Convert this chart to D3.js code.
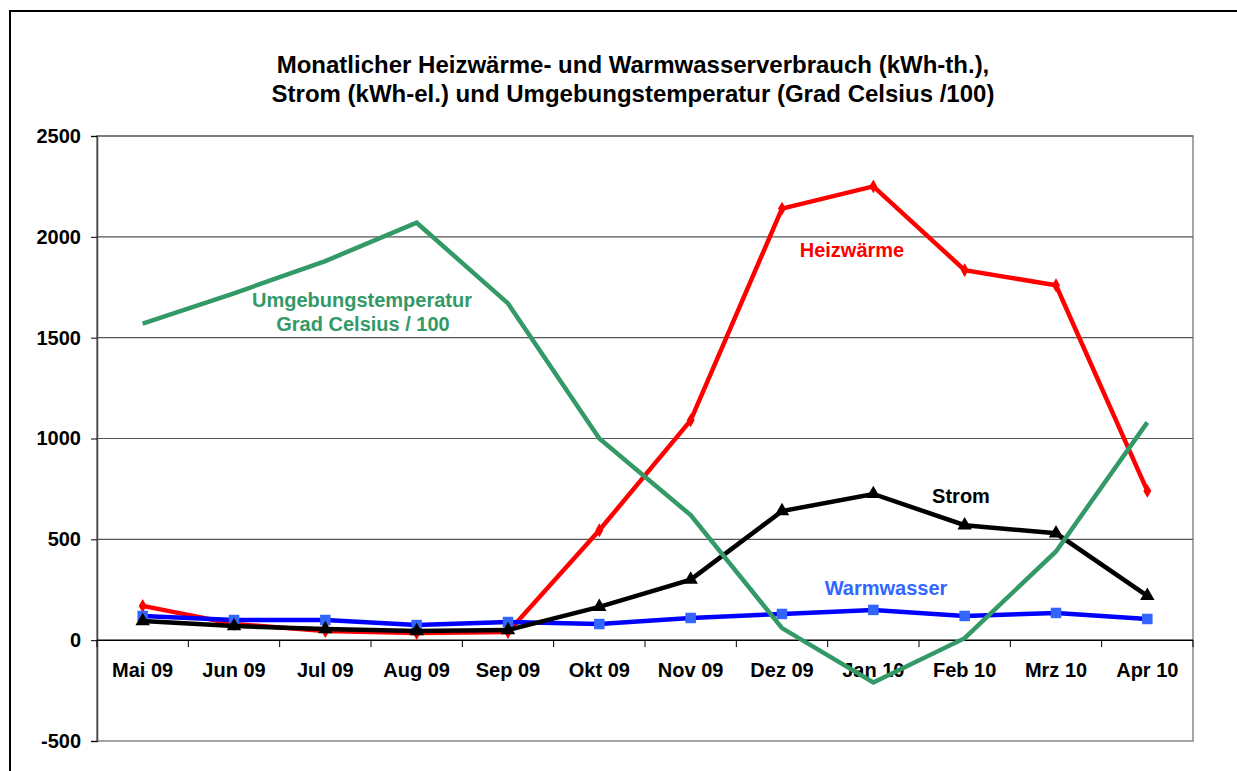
<!DOCTYPE html>
<html>
<head>
<meta charset="utf-8">
<script src="https://cdn.jsdelivr.net/npm/d3@7"></script>
<style>
  body { margin: 0; background: #fff; }
  svg { display: block; font-family: "Liberation Sans", Arial, sans-serif; font-weight: bold; }
</style>
</head>
<body>
<svg id="chart" width="1237" height="771"></svg>
<script>
const months = ['Mai 09', 'Jun 09', 'Jul 09', 'Aug 09', 'Sep 09', 'Okt 09', 'Nov 09', 'Dez 09', 'Jan 10', 'Feb 10', 'Mrz 10', 'Apr 10']
const heizwaerme = [170, 80, 45, 35, 40, 545, 1090, 2140, 2250, 1835, 1760, 740]
const warmwasser = [120, 100, 100, 75, 90, 80, 110, 130, 150, 120, 135, 105]
const strom = [95, 70, 55, 45, 50, 165, 300, 640, 725, 570, 530, 220]
const temperatur = [1570, 1720, 1880, 2070, 1670, 1000, 620, 60, -210, 10, 440, 1080]
const yTicks = [-500, 0, 500, 1000, 1500, 2000, 2500]
const titleLines = ['Monatlicher Heizwärme- und Warmwasserverbrauch (kWh-th.),', 'Strom (kWh-el.) und Umgebungstemperatur (Grad Celsius /100)']

const svg = d3.select('#chart')

// outer frame, right and bottom edges run off the picture
svg.append('rect')
  .attr('x', 10).attr('y', 11)
  .attr('width', 1300).attr('height', 900)
  .attr('fill', 'none').attr('stroke', '#000').attr('stroke-width', 2)

const plotL = 97, plotR = 1193, plotT = 136, plotB = 741

let x = d3.scaleBand().domain(months).range([plotL, plotR]).padding(0)
let y = d3.scaleLinear().domain([-500, 2500]).range([plotB, plotT])
let cx = m => x(m) + x.bandwidth() / 2

// title
svg.append('g').selectAll('text')
  .data(titleLines)
  .enter()
  .append('text')
  .attr('x', 633)
  .attr('y', (d, i) => 73 + i * 29)
  .attr('text-anchor', 'middle')
  .attr('font-size', 24)
  .text(d => d)

// plot frame + gridlines
svg.append('rect')
  .attr('x', plotL).attr('y', plotT)
  .attr('width', plotR - plotL).attr('height', plotB - plotT)
  .attr('fill', 'none').attr('stroke', '#888').attr('stroke-width', 1.5)

svg.append('g').selectAll('line')
  .data(yTicks.filter(t => t != 0 && t != -500))
  .enter()
  .append('line')
  .attr('x1', plotL).attr('x2', plotR)
  .attr('y1', d => y(d)).attr('y2', d => y(d))
  .attr('stroke', '#555').attr('stroke-width', 1.2)

// y axis (plain hyphen for the negative label)
let yAxis = svg.append('g')
  .attr('transform', `translate(${plotL},0)`)
  .call(d3.axisLeft(y).tickValues(yTicks).tickFormat(d => String(d)).tickSize(6).tickPadding(10))
yAxis.select('.domain').attr('stroke', '#444').attr('stroke-width', 1.5)
yAxis.selectAll('line').attr('stroke', '#000')
yAxis.selectAll('text').attr('font-size', 20).attr('fill', '#000')
  .attr('font-family', '"Liberation Sans", Arial, sans-serif').attr('font-weight', 'bold')

// x axis at zero, ticks sit between categories
let edges = months.map(m => x(m)).concat([plotR])
let zeroAxis = svg.append('g').attr('transform', `translate(0,${y(0)})`)
zeroAxis.append('line')
  .attr('x1', plotL).attr('x2', plotR)
  .attr('stroke', '#000').attr('stroke-width', 1.5)
zeroAxis.selectAll('.tick')
  .data(edges)
  .enter()
  .append('line')
  .attr('x1', d => d).attr('x2', d => d)
  .attr('y1', 0).attr('y2', 7)
  .attr('stroke', '#000')
zeroAxis.selectAll('text')
  .data(months)
  .enter()
  .append('text')
  .attr('x', d => cx(d))
  .attr('y', 37)
  .attr('text-anchor', 'middle')
  .attr('font-size', 20)
  .text(d => d)

function drawSeries(values, color, markerColor, symbol, size, width) {
  let pts = months.map((m, i) => [cx(m), y(values[i])])
  let g = svg.append('g')
  g.append('path')
    .attr('d', d3.line()(pts))
    .attr('fill', 'none')
    .attr('stroke', color)
    .attr('stroke-width', width)
    .attr('stroke-linejoin', 'miter')
  if (!symbol) return
  g.selectAll('path.m')
    .data(pts)
    .enter()
    .append('path')
    .attr('class', 'm')
    .attr('d', d3.symbol().type(symbol).size(size))
    .attr('transform', d => `translate(${d[0]},${d[1]})`)
    .attr('fill', markerColor)
}

drawSeries(heizwaerme, '#ff0000', '#ff0000', d3.symbolDiamond, 55, 4.5)
drawSeries(warmwasser, '#0000ff', '#3366ff', d3.symbolSquare, 110, 4.5)
drawSeries(strom, '#000000', '#000000', d3.symbolTriangle, 90, 4.5)
drawSeries(temperatur, '#339966', '#339966', null, 0, 4.5)

// series labels
let labels = [
  { text: 'Umgebungstemperatur', x: 362, y: 307, color: '#339966' },
  { text: 'Grad Celsius / 100', x: 363, y: 331, color: '#339966' },
  { text: 'Heizwärme', x: 852, y: 257, color: '#ff0000' },
  { text: 'Strom', x: 961, y: 503, color: '#000000' },
  { text: 'Warmwasser', x: 886, y: 595, color: '#3366ff' }
]
svg.append('g').selectAll('text')
  .data(labels)
  .enter()
  .append('text')
  .attr('x', d => d.x).attr('y', d => d.y)
  .attr('text-anchor', 'middle')
  .attr('font-size', 20)
  .attr('fill', d => d.color)
  .text(d => d.text)
</script>
</body>
</html>
